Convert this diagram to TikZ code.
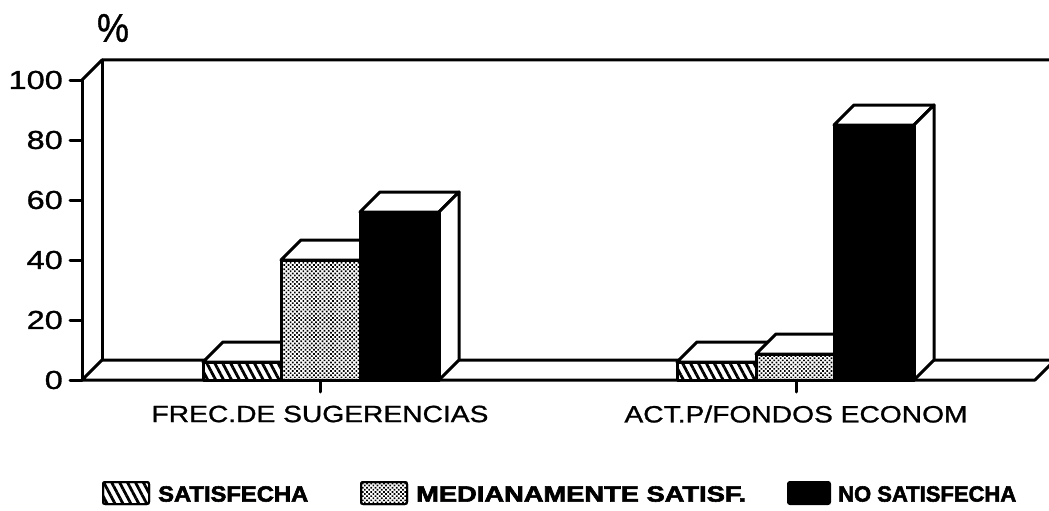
\documentclass[tikz,border=0pt]{standalone}
\usepackage{fontspec}
\setmainfont{Liberation Sans}
\newfontfamily\midfont[FakeBold=1]{Liberation Sans}
\newfontfamily\heavyfont[FakeBold=2.5]{Liberation Sans Bold}
\usetikzlibrary{patterns.meta}
\newcommand{\drawbar}[4]{%
  % top face
  \filldraw[edge,fill=white] (#1,#3) -- (#1+20,#3-20) -- (#2+20,#3-20) -- (#2,#3) -- cycle;
  % side face
  \filldraw[edge,fill=white] (#2,380) -- (#2+20,360) -- (#2+20,#3-20) -- (#2,#3) -- cycle;
  % front face
  \fill[white] (#1,380) rectangle (#2,#3);
  \filldraw[edge,#4] (#1,380) rectangle (#2,#3);
}
\begin{document}
\begin{tikzpicture}[x=1pt,y=-1pt,
  edge/.style={line width=3pt, line join=round, line cap=round},
  hatchfill/.style={pattern={Lines[angle=-62,distance=7pt,line width=2.8pt]}},
  dotfill/.style={pattern={Dots[distance=3pt,radius=1.2pt,angle=45]}},
  blackfill/.style={fill=black},
  tick/.style={font=\fontsize{26}{26}\midfont, anchor=east, inner sep=0pt},
  cat/.style={font=\fontsize{23.5}{24}\midfont, inner sep=0pt},
  leg/.style={font=\fontsize{22}{22}\heavyfont, anchor=west, inner sep=0pt},
  legbox/.style={line width=2pt, rounded corners=2pt}
]
\clip (0,0) rectangle (1049,511);
\useasboundingbox (0,0) rectangle (1049,511);

% percent sign
\node[inner sep=0pt] (pct) at (113,28) {\fontsize{40}{40}\midfont\scalebox{0.9}[1]{\%}};

% back wall and left wall
\draw[edge] (82,80) -- (102,60) -- (1060,60);
\draw[edge] (102,60) -- (102,360);
\draw[edge] (82,80) -- (82,380);

% floor
\draw[edge] (82,380) -- (1035,380) -- (1055,360) -- (102,360) -- cycle;

% y ticks and labels
\foreach \v/\yy in {0/380,20/320,40/260,60/200,80/140,100/80}{
  \draw[edge] (70,\yy) -- (82,\yy);
  \node[tick] (t\v) at (63,\yy) {\scalebox{1.25}[1]{\v}};
}

% category ticks
\draw[edge] (320,380) -- (320,392);
\draw[edge] (796,380) -- (796,392);

% group 1
\drawbar{203}{281}{362}{hatchfill}
\drawbar{281}{360}{260}{dotfill}
\drawbar{360}{439}{212}{blackfill}

% group 2
\drawbar{677}{756}{362}{hatchfill}
\drawbar{756}{834}{354}{dotfill}
\drawbar{834}{914}{125}{blackfill}

% category labels
\node[cat] (c1) at (320,414) {\scalebox{1.2}[1]{FREC.DE SUGERENCIAS}};
\node[cat] (c2) at (796,414) {\scalebox{1.2}[1]{ACT.P/FONDOS ECONOM}};

% legend
\draw[legbox,hatchfill] (103,482) rectangle (149,504);
\draw[legbox] (103,482) rectangle (149,504);
\node[leg] (l1) at (158,494) {\scalebox{1.08}[1]{SATISFECHA}};
\draw[legbox,dotfill] (361,482) rectangle (407,504);
\draw[legbox] (361,482) rectangle (407,504);
\node[leg] (l2) at (416,494) {\scalebox{1.24}[1]{MEDIANAMENTE SATISF.}};
\draw[legbox,fill=black] (788,482) rectangle (830,504);
\node[leg] (l3) at (838,494) {\scalebox{1.0}[1]{NO SATISFECHA}};
\end{tikzpicture}
\end{document}
